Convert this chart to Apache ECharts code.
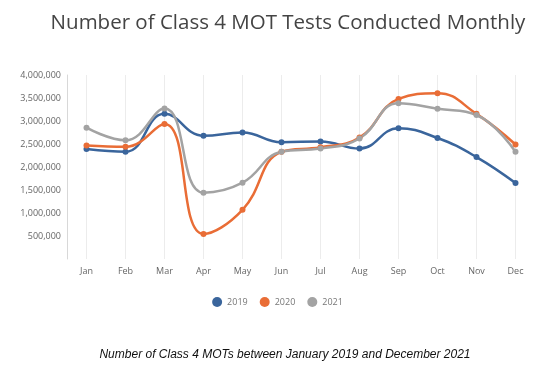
<!DOCTYPE html>
<html><head><meta charset="utf-8">
<script src="https://cdn.jsdelivr.net/npm/echarts@6/dist/echarts.min.js"></script>
<style>html,body{margin:0;padding:0;background:#fff;}#c{width:555px;height:367px;}</style>
</head><body><div id="c"></div>
<script>
var months = ['Jan','Feb','Mar','Apr','May','Jun','Jul','Aug','Sep','Oct','Nov','Dec'];
var s2019 = [2390000,2330000,3155000,2680000,2750000,2540000,2556000,2400000,2840000,2630000,2215000,1650000];
var s2020 = [2470000,2440000,2935000,545000,1070000,2330000,2430000,2640000,3480000,3605000,3155000,2490000];
var s2021 = [2855000,2580000,3270000,1440000,1660000,2330000,2400000,2620000,3385000,3265000,3130000,2330000];
var seriesNames = ['2019','2020','2021'];
var colors = ['#3a659c','#e96d36','#a3a3a3'];
var chart = echarts.init(document.getElementById('c'));
function mk(name, data, color){
  return {name:name, type:'line', data:data, smooth:0.45, symbol:'circle', symbolSize:6,
    itemStyle:{color:color}, lineStyle:{width:2.5, color:color}};
}
chart.setOption({
  animation:false,
  color: colors,
  title:[{text:'Number of Class 4 MOT Tests Conducted Monthly', left:283, top:8, textAlign:'center',
    textStyle:{fontFamily:'Open Sans', fontWeight:'normal', fontSize:20.5, color:'#444'}},
    {text:'Number of Class 4 MOTs between January 2019 and December 2021', left:280, top:344, textAlign:'center',
    textStyle:{fontFamily:'Liberation Sans', fontStyle:'italic', fontWeight:'normal', fontSize:12, color:'#111'}}],
  legend:{data:seriesNames, top:292, left:'center', icon:'circle', itemWidth:10, itemHeight:10, itemGap:12,
    textStyle:{fontFamily:'Open Sans', fontSize:9, color:'#777'}},
  grid:{left:67, right:20, top:75, height:184},
  xAxis:{type:'category', data:months, boundaryGap:true,
    axisLine:{show:false},
    axisTick:{show:true, inside:true, alignWithLabel:true, length:184, lineStyle:{color:'#ececec', width:1}},
    axisLabel:{fontFamily:'Open Sans', fontSize:9, color:'#666', margin:8},
    splitLine:{show:false}},
  yAxis:{type:'value', min:0, max:4000000, interval:500000,
    axisLine:{show:true, lineStyle:{color:'#d8d8d8'}},
    axisTick:{show:false}, splitLine:{show:false},
    axisLabel:{fontFamily:'Open Sans', fontSize:9, color:'#666', margin:6,
      formatter:function(v){ return v===0 ? '' : v.toString().replace(/\B(?=(\d{3})+(?!\d))/g, ','); }}},
  series:[mk(seriesNames[0], s2019, colors[0]), mk(seriesNames[1], s2020, colors[1]), mk(seriesNames[2], s2021, colors[2])]
});
</script></body></html>
